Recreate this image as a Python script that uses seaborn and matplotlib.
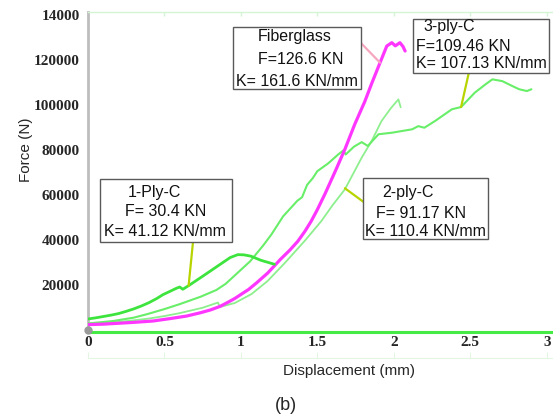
import matplotlib
matplotlib.use("Agg")
import matplotlib.pyplot as plt
import seaborn as sns
import pandas as pd
from matplotlib.patches import Rectangle

# ---------------- data ----------------
fiber_x = [0, 0.1, 0.2, 0.3, 0.425, 0.53, 0.645, 0.737, 0.8, 0.864, 0.92, 0.96, 1.0, 1.05, 1.1,
           1.175, 1.26, 1.32, 1.373, 1.42, 1.46, 1.5, 1.55, 1.62, 1.68, 1.745, 1.81, 1.855,
           1.91, 1.954, 1.987, 2.01, 2.04, 2.06, 2.074]
fiber_F = [2400, 2600, 3000, 3400, 4000, 5000, 6200, 7700, 8900, 10500, 12500, 14000, 15800, 18000, 20800,
           25300, 31500, 35500, 39500, 44000, 48400, 53500, 60500, 71000, 80300, 91500, 101500, 109500,
           118800, 126200, 127700, 126300, 127700, 126000, 124000]

ply1_x = [0, 0.05, 0.1, 0.15, 0.2, 0.25, 0.3, 0.35, 0.4, 0.45, 0.49, 0.54, 0.58, 0.6, 0.62, 0.66,
          0.737, 0.8, 0.88, 0.93, 0.98, 1.02, 1.066, 1.13, 1.22]
ply1_F = [4900, 5400, 6000, 6600, 7300, 8300, 9400, 10700, 12200, 14000, 15700, 17300, 18600, 19100, 18100, 19800,
          23300, 26200, 29900, 32200, 33500, 33400, 32800, 31000, 29200]

ply2_x = [0, 0.1, 0.2, 0.3, 0.4, 0.5, 0.6, 0.75, 0.85, 0.862, 0.96, 1.07, 1.175, 1.29, 1.416, 1.526, 1.6,
          1.68, 1.79, 1.855, 1.92, 1.98, 2.03, 2.045]
ply2_F = [2700, 3100, 3600, 4300, 5100, 6200, 7500, 9900, 12200, 10200, 12000, 16000, 21800, 30000, 39500, 48400, 55500,
          62500, 76600, 84000, 92900, 98500, 102500, 99000]

ply3_x = [0, 0.165, 0.3, 0.39, 0.5, 0.6, 0.737, 0.84, 0.9, 0.956, 1.06, 1.145, 1.2, 1.276, 1.37, 1.40, 1.433,
          1.47, 1.5, 1.57, 1.636, 1.67, 1.685, 1.74, 1.79, 1.83, 1.9, 1.99, 2.05, 2.12, 2.16, 2.2, 2.27, 2.38,
          2.44, 2.53, 2.6, 2.645, 2.71, 2.776, 2.82, 2.87, 2.9]
ply3_F = [2900, 4000, 5500, 7100, 9300, 11500, 14800, 17800, 20500, 24000, 30500, 37500, 42500, 50500, 57500, 59000, 64500,
          67500, 70600, 74000, 78000, 79800, 78000, 81500, 83500, 81800, 87000, 87700, 88400, 89200, 90600, 89900, 92900, 98100,
          99100, 105500, 109200, 111400, 110600, 108400, 107000, 106200, 107000]

x_ticks = [0, 0.5, 1, 1.5, 2, 2.5, 3]
x_tick_labels = ["0", "0.5", "1", "1.5", "2", "2.5", "3"]
y_ticks = [20000, 40000, 60000, 80000, 100000, 120000, 140000]
y_tick_labels = ["20000", "40000", "60000", "80000", "100000", "120000", "14000"]

fiber_text = ["Fiberglass", "F=126.6 KN", "K= 161.6 KN/mm"]
ply3_text = ["3-ply-C", "F=109.46 KN", "K= 107.13 KN/mm"]
ply1_text = ["1-Ply-C", "F= 30.4 KN", "K= 41.12 KN/mm"]
ply2_text = ["2-ply-C", "F= 91.17 KN", "K= 110.4 KN/mm"]

# ---------------- style ----------------
sns.set_style("white")
plt.rcParams["font.family"] = ["Liberation Sans", "DejaVu Sans"]

FW, FH = 553, 418
fig = plt.figure(figsize=(FW / 100, FH / 100), dpi=100)
AX_L, AX_B, AX_R, AX_T = 88, 332, 553, 12  # pixel frame of the axes
ax = fig.add_axes([AX_L / FW, (FH - AX_B) / FH, (AX_R - AX_L) / FW, (AX_B - AX_T) / FH])

PX_PER_X = 152.9
N_PER_PX = 20000 / 45.0
Y0_PX = 330

ax.set_xlim(0, (AX_R - AX_L) / PX_PER_X)
ax.set_ylim(-(AX_B - Y0_PX) * N_PER_PX, (Y0_PX - AX_T) * N_PER_PX)


def axfrac(px, py):
    return ((px - AX_L) / (AX_R - AX_L), (AX_B - py) / (AX_B - AX_T))


series = [
    (ply2_x, ply2_F, "#8def8d", 1.3),
    (ply3_x, ply3_F, "#68ee68", 1.5),
    (fiber_x, fiber_F, "#ff36ff", 2.3),
    (ply1_x, ply1_F, "#3ee43e", 2.0),
]
for xs, fs, col, lw in series:
    df = pd.DataFrame({"x": xs, "F": fs})
    sns.lineplot(data=df, x="x", y="F", sort=False, estimator=None, color=col,
                 linewidth=lw, ax=ax, zorder=3)

ax.plot([0], [0], marker="o", ms=5, color="#9a9a9a", clip_on=False, zorder=6)

# spines
ax.spines["right"].set_visible(False)
ax.spines["left"].set_color("#bdbdbd")
ax.spines["left"].set_linewidth(2)
ax.spines["bottom"].set_color("#45ea45")
ax.spines["bottom"].set_linewidth(2.2)
ax.spines["top"].set_color("#d3f5d3")
ax.spines["top"].set_linewidth(1)

tick_font = dict(family=["Liberation Serif", "DejaVu Serif"], weight="bold", size=11)
ax.set_xticks(x_ticks)
ax.set_xticklabels(x_tick_labels, fontdict=tick_font)
ax.set_yticks(y_ticks)
ax.set_yticklabels(y_tick_labels, fontdict=tick_font)
ax.tick_params(axis="y", length=0, pad=6)
ax.tick_params(axis="x", bottom=False, top=True, direction="in", length=3,
               width=1, color="#d3f5d3", pad=3.0, labelbottom=True)

# faint secondary axis line below tick labels (as in the reference)
sec = ax.secondary_xaxis(-(358 - AX_B) / (AX_B - AX_T))
sec.set_xticks(x_ticks)
sec.set_xticklabels([""] * len(x_ticks))
sec.tick_params(direction="in", length=4, color="#e2f6e2")
sec.spines["bottom"].set_color("#e2f6e2")

ax.set_xlabel("Displacement (mm)", fontsize=11)
ax.set_ylabel("Force (N)", fontsize=11)
ax.xaxis.set_label_coords(*axfrac(349, 371))
ax.yaxis.set_label_coords(*axfrac(26, 150))
ax.xaxis.label.set_va("center")
ax.yaxis.label.set_va("center")

# ---------------- annotation boxes ----------------
boxes = [
    # (lines, box px (l, t, r, b), line left px, line baseline px)
    (fiber_text, (233, 27, 361, 89), [258, 258, 236], [41, 64, 86]),
    (ply3_text, (413, 19, 549, 73), [423, 416, 416], [31, 51, 68]),
    (ply1_text, (100, 179, 232, 242), [128, 125, 104], [197, 216, 236]),
    (ply2_text, (363, 178, 488, 239), [382, 376, 365], [197, 218, 236]),
]
for lines, (l, t, r, b), lefts, bases in boxes:
    x0, y0 = axfrac(l, b)
    x1, y1 = axfrac(r, t)
    ax.add_patch(Rectangle((x0, y0), x1 - x0, y1 - y0, transform=ax.transAxes,
                           facecolor="white", edgecolor="#5a5a5a", lw=1.0, zorder=7,
                           clip_on=False))
    for txt, lx, by in zip(lines, lefts, bases):
        ax.text(*axfrac(lx, by), txt, transform=ax.transAxes, ha="left", va="baseline",
                fontsize=11.5, color="#111111", zorder=8)

# leader lines: (point on curve in data coords, box end in pixels, colour)
leaders = [
    ((1.91, 118800), (359, 41), "#f6a6bf"),
    ((2.44, 99100), (469, 72), "#b8d400"),
    ((0.658, 19700), (193, 242), "#b8d400"),
    ((1.68, 63000), (365, 203), "#b8d400"),
]
for xy, (bx, by), col in leaders:
    ax.annotate("", xy=xy, xycoords="data", xytext=axfrac(bx, by), textcoords="axes fraction",
                arrowprops=dict(arrowstyle="-", color=col, lw=1.6, shrinkA=0, shrinkB=0),
                zorder=6)

fig.text(286 / FW, 1 - 406 / FH, "(b)", ha="center", va="center", fontsize=13)

fig.savefig("out.png", dpi=100)
